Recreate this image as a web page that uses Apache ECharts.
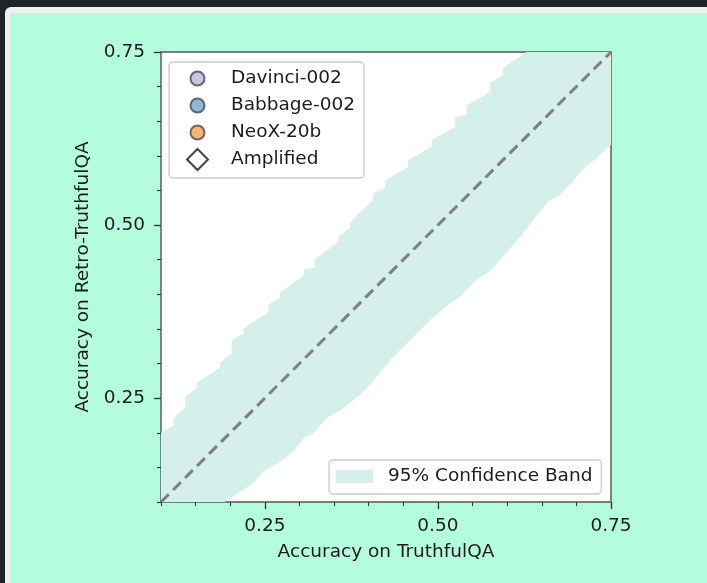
<!DOCTYPE html>
<html>
<head>
<meta charset="utf-8">
<script src="https://cdn.jsdelivr.net/npm/echarts@6/dist/echarts.min.js"></script>
<style>
  html, body { margin: 0; padding: 0; width: 707px; height: 583px; overflow: hidden; background: #1f2428; }
  #frame { position: absolute; left: 5px; top: 7px; width: 702px; height: 576px; background: #eef0ef; border-top-left-radius: 6px; }
  #panel { position: absolute; left: 10px; top: 13px; width: 697px; height: 570px; background: #b3fcdd; }
  #chart { position: absolute; left: 0; top: 0; width: 707px; height: 583px; }
</style>
</head>
<body>
<div id="frame"></div>
<div id="panel"></div>
<div id="chart"></div>
<script>
// Axis range and tick positions
const axisMin = 0.1;
const axisMax = 0.75;
const majorTicks = [0.25, 0.5, 0.75];
const minorTicks = [0.1, 0.15, 0.2, 0.3, 0.35, 0.4, 0.45, 0.55, 0.6, 0.65, 0.7];

// Upper edge of the 95% confidence band (stepped)
const upperX = [0.100, 0.118, 0.118, 0.135, 0.135, 0.152, 0.152, 0.185, 0.185, 0.202, 0.202, 0.219, 0.219,
                0.255, 0.255, 0.272, 0.272, 0.306, 0.306, 0.322, 0.322, 0.356, 0.356, 0.373, 0.373, 0.406,
                0.406, 0.424, 0.424, 0.457, 0.457, 0.491, 0.491, 0.525, 0.525, 0.542, 0.542, 0.575, 0.575,
                0.594, 0.594, 0.628, 0.750];
const upperY = [0.200, 0.211, 0.221, 0.237, 0.252, 0.265, 0.272, 0.294, 0.301, 0.315, 0.334, 0.343, 0.351,
                0.374, 0.385, 0.395, 0.403, 0.427, 0.435, 0.439, 0.450, 0.476, 0.483, 0.496, 0.504, 0.536,
                0.546, 0.554, 0.565, 0.584, 0.594, 0.613, 0.623, 0.642, 0.656, 0.659, 0.673, 0.692, 0.705,
                0.717, 0.727, 0.750, 0.750];

// Lower edge of the 95% confidence band
const lowerX = [0.100, 0.192, 0.233, 0.250, 0.272, 0.291, 0.306, 0.320, 0.339, 0.363, 0.392, 0.416, 0.431,
                0.460, 0.491, 0.518, 0.532, 0.556, 0.575, 0.619, 0.657, 0.679, 0.713, 0.729, 0.750];
const lowerY = [0.100, 0.100, 0.127, 0.146, 0.158, 0.173, 0.192, 0.199, 0.221, 0.235, 0.259, 0.286, 0.305,
                0.334, 0.365, 0.387, 0.397, 0.421, 0.433, 0.483, 0.532, 0.546, 0.584, 0.597, 0.616];

// y = x reference line
const diagonal = [[0.1, 0.1], [0.75, 0.75]];

// Model series shown in the legend
const modelNames = ['Davinci-002', 'Babbage-002', 'NeoX-20b', 'Amplified'];
const modelColors = ['#c0b4de', '#70a8d2', '#f8a352', '#ffffff'];

const bandName = '95% Confidence Band';
const FONT = 'DejaVu Sans';
const FS = 18.5;
const TXT = '#1c1c1c';
const BAND = '#d5efea';
const TICK = '#333333';

// circle icon padded inside a 21x21 box so it matches the diamond row height
const circleIcon = 'path://M0,0M21,21M3.5,10.5A7,7,0,1,1,17.5,10.5A7,7,0,1,1,3.5,10.5Z';

function makeAxes(dim) {
  const isX = dim === 'x';
  const major = {
    type: 'value', min: axisMin, max: axisMax,
    position: isX ? 'bottom' : 'left',
    name: isX ? 'Accuracy on TruthfulQA' : 'Accuracy on Retro-TruthfulQA',
    nameLocation: 'middle',
    nameGap: isX ? 41 : 59,
    nameTextStyle: { fontFamily: FONT, fontSize: FS, color: TXT },
    axisLine: { show: false },
    splitLine: { show: false },
    axisTick: { show: true, customValues: majorTicks, length: 7, lineStyle: { color: TICK, width: 1.3 } },
    axisLabel: {
      customValues: majorTicks,
      formatter: v => v.toFixed(2),
      fontFamily: FONT, fontSize: FS, color: TXT,
      margin: isX ? 15 : 16
    }
  };
  const minor = {
    type: 'value', min: axisMin, max: axisMax,
    position: isX ? 'bottom' : 'left',
    axisLine: { show: false },
    splitLine: { show: false },
    axisTick: { show: true, customValues: minorTicks, length: 4, lineStyle: { color: TICK, width: 1.1 } },
    axisLabel: { show: false }
  };
  return [major, minor];
}

const modelSeries = modelNames.map((name, i) => ({
  type: 'scatter',
  name: name,
  data: [],
  symbol: name === 'Amplified' ? 'diamond' : circleIcon,
  itemStyle: {
    color: modelColors[i],
    borderColor: name === 'Amplified' ? '#111111' : '#4a4a4a',
    borderWidth: name === 'Amplified' ? 1.6 : 1.1
  }
}));

const chart = echarts.init(document.getElementById('chart'), null, { renderer: 'canvas' });
chart.setOption({
  animation: false,
  backgroundColor: 'transparent',
  grid: {
    left: 161, top: 52, width: 450, height: 450,
    show: true, backgroundColor: '#ffffff', borderColor: '#555555', borderWidth: 1.4
  },
  xAxis: makeAxes('x'),
  yAxis: makeAxes('y'),
  legend: [
    {
      data: modelNames.map((n, i) => ({ name: n, icon: n === 'Amplified' ? 'diamond' : circleIcon })),
      orient: 'vertical',
      left: 169, top: 62,
      itemWidth: 21, itemHeight: 21, itemGap: 4,
      padding: [5, 9, 7, 17],
      backgroundColor: '#ffffff',
      borderColor: '#cccccc', borderWidth: 1.4, borderRadius: 4,
      selectedMode: false,
      textStyle: { fontFamily: FONT, fontSize: FS, color: TXT, lineHeight: 18, padding: [0, 0, 0, 18] }
    },
    {
      data: [{ name: bandName, icon: 'rect' }],
      orient: 'horizontal',
      left: 329, top: 460,
      itemWidth: 37, itemHeight: 13,
      padding: [7, 9, 8, 7],
      backgroundColor: '#ffffff',
      borderColor: '#cccccc', borderWidth: 1.4, borderRadius: 4,
      selectedMode: false,
      itemStyle: { color: BAND, borderWidth: 0 },
      textStyle: { fontFamily: FONT, fontSize: FS, color: TXT, lineHeight: 18, padding: [0, 0, 0, 10] }
    }
  ],
  series: [
    {
      type: 'custom',
      name: bandName,
      xAxisIndex: 0, yAxisIndex: 0,
      clip: true,
      silent: true,
      z: 1,
      itemStyle: { color: BAND },
      data: [[upperX[0], upperY[0]]],
      renderItem: function (params, api) {
        const pts = [];
        for (let i = 0; i < upperX.length; i++) pts.push(api.coord([upperX[i], upperY[i]]));
        for (let i = lowerX.length - 1; i >= 0; i--) pts.push(api.coord([lowerX[i], lowerY[i]]));
        return { type: 'polygon', shape: { points: pts }, style: { fill: BAND } };
      }
    },
    {
      type: 'line',
      name: 'diagonal',
      xAxisIndex: 0, yAxisIndex: 0,
      data: diagonal,
      symbol: 'none',
      silent: true,
      z: 3,
      lineStyle: { color: '#7f7f7f', width: 3, type: [11, 6] }
    }
  ].concat(modelSeries)
});
</script>
</body>
</html>
